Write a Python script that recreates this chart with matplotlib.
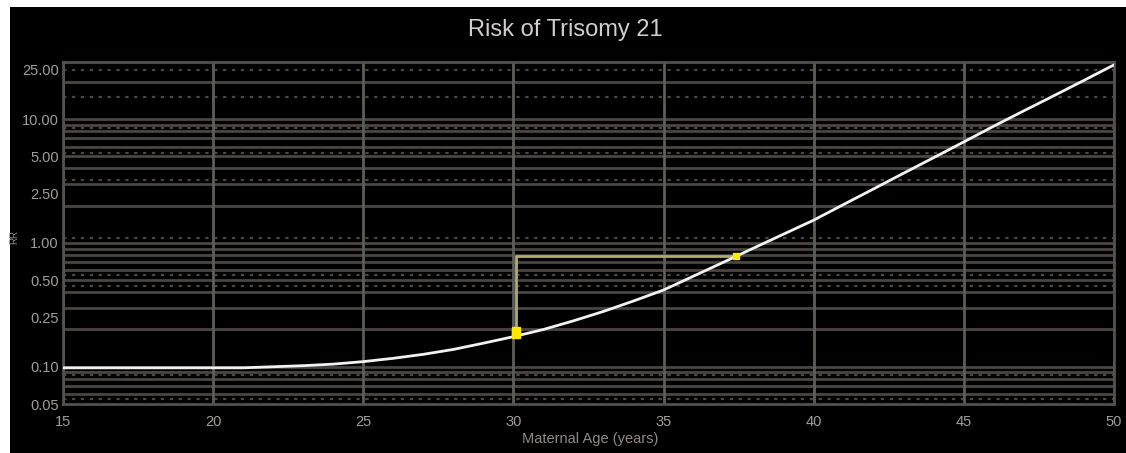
import matplotlib
matplotlib.use("Agg")
import matplotlib.pyplot as plt
from matplotlib.patches import Rectangle
import numpy as np

# ---- data ----
ages = [15, 20, 21, 22, 23, 24, 25, 26, 27, 28, 29, 30, 31, 32, 33, 34, 35,
        36, 37, 38, 39, 40, 41, 42, 43, 44, 45, 46, 47, 48, 49, 50]
risk = [0.098, 0.098, 0.098, 0.100, 0.102, 0.105, 0.110, 0.117, 0.126, 0.138,
        0.155, 0.175, 0.200, 0.235, 0.280, 0.340, 0.417, 0.540, 0.700, 0.910,
        1.18, 1.53, 2.05, 2.74, 3.67, 4.90, 6.56, 8.8, 11.7, 15.5, 20.6, 27.5]
x_ticks = [15, 20, 25, 30, 35, 40, 45, 50]
y_ticks = [0.05, 0.10, 0.25, 0.50, 1.00, 2.50, 5.00, 10.00, 25.00]
y_tick_labels = ["0.05", "0.10", "0.25", "0.50", "1.00", "2.50", "5.00", "10.00", "25.00"]
minor_grid = [0.06, 0.07, 0.08, 0.09, 0.1, 0.2, 0.3, 0.4, 0.5, 0.6, 0.7, 0.8, 0.9,
              1, 2, 3, 4, 5, 6, 7, 8, 9, 10, 20]
dotted_grid = [0.055, 0.085, 0.45, 0.55, 1.1, 3.2, 5.3, 8.5, 15, 25]
patient_age = 30.1
patient_risk = 0.19
equiv_age = 37.4
equiv_risk = 0.79

title = "Risk of Trisomy 21"
xlabel = "Maternal Age (years)"
ylabel = "RR"

plt.rcParams["font.family"] = ["Liberation Sans", "DejaVu Sans"]

W, H = 1126, 453
fig = plt.figure(figsize=(W / 100, H / 100), dpi=100)
fig.patch.set_facecolor("white")
fig.patches.append(Rectangle((10 / W, 0), 1, (H - 7) / H, transform=fig.transFigure,
                             facecolor="black", edgecolor="none", zorder=-10))

ax = fig.add_axes([63 / W, (H - 404) / H, (1114 - 63) / W, (404 - 62) / H])
ax.set_zorder(5)
ax.set_facecolor("black")
ax.set_yscale("log")
ax.set_xlim(15, 50)
ax.set_ylim(0.05, 29)

for v in minor_grid:
    ax.axhline(v, color="#4b4543", lw=2.0, zorder=1)
for v in dotted_grid:
    ax.axhline(v, color="#4b4543", lw=1.6, ls=(0, (1.5, 2.5)), zorder=1)
for v in x_ticks:
    ax.axvline(v, color="#5c5f58", lw=2.0, zorder=1.5)

ax.plot(ages, risk, color="#f2f2f2", lw=2.0, zorder=3, solid_capstyle="round")

# patient indicator lines
ax.plot([patient_age, patient_age, equiv_age],
        [patient_risk * 0.92, equiv_risk, equiv_risk],
        color="#b3ab62", lw=2.0, zorder=2.5)
ax.plot([patient_age], [patient_risk * 1.02], ls="none",
        marker="s", ms=5.5, color="#ffe800", mec="#ffe800", zorder=4)
ax.plot([patient_age], [patient_risk * 0.96], ls="none",
        marker="s", ms=5.5, color="#ffe800", mec="#ffe800", zorder=4)
ax.plot([equiv_age], [equiv_risk], ls="none",
        marker="s", ms=5, color="#ffe800", mec="#ffe800", zorder=4)

ax.set_xticks(x_ticks)
ax.set_xticklabels([str(v) for v in x_ticks])
ax.set_yticks(y_ticks)
ax.set_yticklabels(y_tick_labels)
ax.yaxis.set_minor_locator(matplotlib.ticker.NullLocator())
ax.tick_params(axis="both", length=0, colors="#a29d9a", labelsize=10.5)
ax.tick_params(axis="x", pad=8)
ax.tick_params(axis="y", pad=3)

for s in ax.spines.values():
    s.set_color("#55504d")
    s.set_linewidth(2)

fig.text(565 / W, 1 - 30 / H, title, ha="center", va="center",
         color="#d2cecd", fontsize=17)
fig.text(590 / W, 1 - 439 / H, xlabel, ha="center", va="center",
         color="#8f8a88", fontsize=10.5)
fig.text(14 / W, 1 - 237 / H, ylabel, ha="center", va="center", rotation=90,
         color="#8f8a88", fontsize=7)

fig.savefig("out.png", dpi=100, facecolor=fig.get_facecolor())
